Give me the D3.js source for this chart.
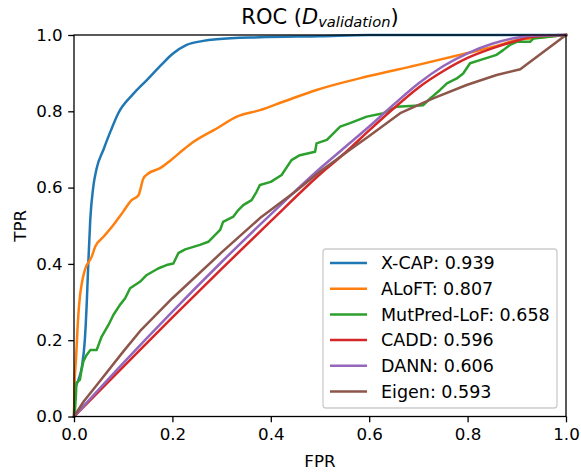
<!DOCTYPE html>
<html>
<meta charset="utf-8">
<head>
  <title>ROC validation</title>
</head>
<style>
body { margin: 0; background: white; }
text { font-family: "DejaVu Sans", sans-serif; fill: black; }
</style>
<body>
<svg width="581" height="475"></svg>
<script src="https://cdn.jsdelivr.net/npm/d3@7/dist/d3.min.js"></script>
<script>
// [fpr, tpr] points
var xcap = [[0,0],[0.002,0.07],[0.009,0.096],[0.016,0.13],[0.022,0.2],[0.026,0.3],[0.029,0.4],[0.033,0.515],
  [0.039,0.6],[0.046,0.65],[0.06,0.70],[0.075,0.75],[0.09,0.795],[0.12,0.845],[0.148,0.882],[0.18,0.925],
  [0.2,0.95],[0.229,0.974],[0.26,0.984],[0.29,0.989],[0.378,0.994],[0.5,0.997],[0.6,1],[1,1]];
var aloft = [[0,0],[0.001,0.08],[0.004,0.15],[0.006,0.2],[0.008,0.25],[0.012,0.314],[0.016,0.35],[0.022,0.384],
  [0.036,0.419],[0.043,0.445],[0.06,0.471],[0.08,0.502],[0.1,0.537],[0.117,0.567],[0.131,0.58],[0.141,0.624],
  [0.151,0.637],[0.175,0.651],[0.195,0.67],[0.222,0.699],[0.243,0.72],[0.29,0.755],[0.331,0.786],[0.378,0.803],
  [0.425,0.825],[0.493,0.856],[0.595,0.891],[0.697,0.921],[0.798,0.952],[0.866,0.974],[0.9,0.987],[0.927,0.991],[1,1]];
var mutpred = [[0,0],[0.002,0.017],[0.004,0.06],[0.005,0.088],[0.012,0.096],[0.015,0.12],[0.019,0.144],[0.025,0.16],
  [0.033,0.174],[0.046,0.174],[0.056,0.209],[0.07,0.24],[0.08,0.266],[0.093,0.292],[0.104,0.31],[0.114,0.336],
  [0.134,0.353],[0.148,0.371],[0.171,0.388],[0.188,0.397],[0.202,0.401],[0.212,0.428],[0.226,0.438],[0.256,0.45],
  [0.273,0.458],[0.283,0.471],[0.297,0.489],[0.303,0.51],[0.324,0.524],[0.334,0.541],[0.344,0.554],[0.361,0.567],
  [0.371,0.589],[0.378,0.607],[0.4,0.615],[0.422,0.633],[0.442,0.672],[0.459,0.685],[0.49,0.694],[0.493,0.716],
  [0.514,0.725],[0.541,0.76],[0.561,0.769],[0.595,0.786],[0.629,0.795],[0.656,0.812],[0.71,0.816],[0.724,0.834],
  [0.744,0.856],[0.758,0.873],[0.778,0.886],[0.791,0.899],[0.805,0.926],[0.825,0.934],[0.859,0.948],[0.873,0.961],
  [0.886,0.974],[0.9,0.982],[0.927,0.982],[0.934,0.991],[1,1]];
var cadd = [[0,0],[0.1,0.13],[0.2,0.26],[0.3,0.387],[0.4,0.512],[0.5,0.635],[0.55,0.69],[0.6,0.75],[0.65,0.808],
  [0.7,0.862],[0.75,0.905],[0.8,0.94],[0.85,0.965],[0.9,0.985],[0.93,0.995],[1,1]];
var dann = [[0,0],[0.1,0.14],[0.2,0.275],[0.3,0.405],[0.4,0.53],[0.5,0.65],[0.55,0.705],[0.6,0.76],[0.65,0.818],
  [0.7,0.873],[0.75,0.918],[0.8,0.952],[0.85,0.977],[0.9,0.993],[0.93,0.998],[1,1]];
var eigen = [[0,0],[0.02,0.04],[0.046,0.082],[0.1,0.17],[0.137,0.228],[0.2,0.31],[0.3,0.43],[0.378,0.52],
  [0.45,0.59],[0.5,0.642],[0.561,0.699],[0.6,0.735],[0.663,0.795],[0.73,0.834],[0.798,0.869],[0.859,0.895],
  [0.907,0.91],[1,1]];

var names = ["X-CAP", "ALoFT", "MutPred-LoF", "CADD", "DANN", "Eigen"];
var aucs = [0.939, 0.807, 0.658, 0.596, 0.606, 0.593];
var curves = [xcap, aloft, mutpred, cadd, dann, eigen];
var colors = ["#1f77b4", "#ff7f0e", "#2ca02c", "#d62728", "#9467bd", "#8c564b"];
var ticks = [0, 0.2, 0.4, 0.6, 0.8, 1.0];

var mLeft = 74, mRight = 566, mTop = 35, mBottom = 416.5;
var svg = d3.select("svg");

var x = d3.scaleLinear().domain([0, 1]).range([mLeft, mRight]);
var y = d3.scaleLinear().domain([0, 1]).range([mBottom, mTop]);

// smooth the curves that look smooth in the figure, keep the jagged ones straight
var smoothLine = d3.line()
  .x(function(d) { return x(d[0]); })
  .y(function(d) { return y(d[1]); })
  .curve(d3.curveMonotoneX);
var line = d3.line()
  .x(function(d) { return x(d[0]); })
  .y(function(d) { return y(d[1]); });

var plot = svg.append("g");
curves.forEach(function(c, i) {
  var smooth = (i === 0 || i === 1 || i === 3 || i === 4);
  plot.append("path")
    .datum(c)
    .attr("d", smooth ? smoothLine : line)
    .attr("fill", "none")
    .attr("stroke", colors[i])
    .attr("stroke-width", 2.5)
    .attr("stroke-linejoin", "round")
    .attr("stroke-linecap", "square");
});

// axes
var xAxis = d3.axisBottom(x).tickValues(ticks).tickFormat(d3.format(".1f"))
  .tickSizeOuter(0).tickSize(5.8).tickPadding(5.5);
var yAxis = d3.axisLeft(y).tickValues(ticks).tickFormat(d3.format(".1f"))
  .tickSizeOuter(0).tickSize(5.8).tickPadding(5.5);

var gx = svg.append("g").attr("transform", "translate(0," + mBottom + ")").call(xAxis);
var gy = svg.append("g").attr("transform", "translate(" + mLeft + ",0)").call(yAxis);
[gx, gy].forEach(function(g) {
  g.select(".domain").remove();
  g.selectAll(".tick line").attr("stroke", "black").attr("stroke-width", 1.3);
  g.selectAll(".tick text").attr("font-family", "DejaVu Sans").attr("font-size", 16.7).attr("fill", "black");
});

svg.append("rect")
  .attr("x", mLeft).attr("y", mTop)
  .attr("width", mRight - mLeft).attr("height", mBottom - mTop)
  .attr("fill", "none").attr("stroke", "black").attr("stroke-width", 1.3);

// labels
svg.append("text").attr("x", (mLeft + mRight) / 2).attr("y", 467)
  .attr("text-anchor", "middle").attr("font-size", 16.7).text("FPR");
svg.append("text").attr("transform", "translate(26," + (mTop + mBottom) / 2 + ") rotate(-90)")
  .attr("text-anchor", "middle").attr("font-size", 16.7).text("TPR");

var title = svg.append("text").attr("x", (mLeft + mRight) / 2).attr("y", 24)
  .attr("text-anchor", "middle").attr("font-size", 21);
title.append("tspan").text("ROC (");
title.append("tspan").attr("font-style", "italic").text("D");
title.append("tspan").attr("font-style", "italic").attr("font-size", 14.7).attr("dy", 3).text("validation");
title.append("tspan").attr("dy", -3).text(")");

// legend
var lg = svg.append("g");
lg.append("rect")
  .attr("x", 323).attr("y", 249).attr("width", 234).attr("height", 159)
  .attr("rx", 3).attr("fill", "white").attr("fill-opacity", 0.8)
  .attr("stroke", "#cccccc").attr("stroke-width", 1.3);

var rows = lg.selectAll(".row").data(names).enter().append("g")
  .attr("transform", function(d, i) { return "translate(0," + (263 + i * 25.7) + ")"; });
rows.append("line")
  .attr("x1", 330).attr("x2", 367)
  .attr("stroke", function(d, i) { return colors[i]; })
  .attr("stroke-width", 2.5);
rows.append("text")
  .attr("x", 381).attr("y", 6.3).attr("font-size", 17.5)
  .text(function(d, i) { return d + ": " + aucs[i].toFixed(3); });
</script>
</body>
</html>
